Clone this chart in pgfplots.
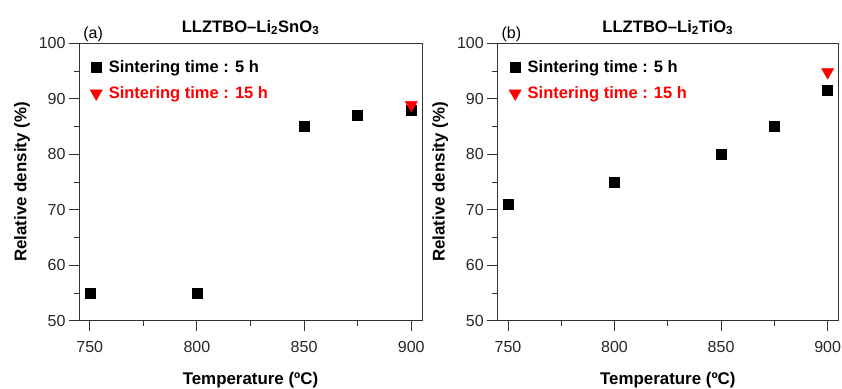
\documentclass[border=0pt]{standalone}
\usepackage{pgfplots}
\pgfplotsset{compat=1.18}
\usepackage{fontspec}
\setmainfont{Liberation Sans}

\definecolor{axisgray}{HTML}{333333}

% Sintering at 5 h and 15 h, LLZTBO-Li2SnO3
\pgfplotstableread{
T    rho
750  55
800  55
850  85
875  87
900  88
}\snFive
\pgfplotstableread{
T    rho
900  88.9
}\snFifteen
% LLZTBO-Li2TiO3
\pgfplotstableread{
T    rho
750  71
800  75
850  80
875  85
900  91.5
}\tiFive
\pgfplotstableread{
T    rho
900  94.8
}\tiFifteen

\pgfplotsset{
  densityaxis/.style={
    scale only axis,
    anchor=south west,
    height=277.4pt,
    xmin=745, xmax=905,
    ymin=50, ymax=100,
    xtick={750,800,850,900},
    minor xtick={775,825,875},
    ytick={50,60,70,80,90,100},
    minor ytick={55,65,75,85,95},
    tick align=outside,
    xtick pos=bottom, ytick pos=left,
    major tick length=10pt,
    minor tick length=5pt,
    axis line style={axisgray, line width=0.9pt},
    every tick/.style={axisgray, line width=0.9pt},
    /pgf/number format/assume math mode=true,
    /pgf/number format/1000 sep={},
    tick label style={font=\fontsize{16}{19}\selectfont, text=black!85},
    xticklabel style={yshift=-7pt},
    label style={font=\bfseries\fontsize{16.9}{20}\selectfont},
    xlabel={Temperature (ºC)},
    ylabel={Relative density (\%)},
    xlabel style={yshift=-13pt},
    ylabel style={yshift=2pt},
    title style={font=\bfseries\fontsize{16.6}{20}\selectfont,
                 at={(axis description cs:0.5,1)}, anchor=base, yshift=5pt},
    legend cell align=left,
    legend image code/.code={%
      \draw[mark repeat=2,mark phase=2] plot coordinates {(0pt,0pt)(6pt,0pt)(12pt,0pt)};},
    legend style={draw=none, fill=none, inner sep=0pt,
                  font=\bfseries\fontsize{16.5}{20}\selectfont,
                  row sep=10pt,
                  nodes={inner sep=1.5pt},
                  /tikz/every odd column/.append style={column sep=5pt}},
    clip=false,
  },
  fivehour/.style={only marks, mark=square*, mark size=5pt, black, mark options={fill=black}},
  fifteenhour/.style={only marks, mark=triangle*, mark size=7pt, red,
                      mark options={fill=red, rotate=180}},
}

\begin{document}
\begin{tikzpicture}
\useasboundingbox (0pt,0pt) rectangle (842pt,388pt);

\begin{axis}[densityaxis,
  at={(79pt,67.3pt)}, width=343pt,
  title={LLZTBO–Li$_{\mathbf{2}}$SnO$_{\mathbf{3}}$},
  legend style={at={(axis description cs:0.032,0.945)}, anchor=north west},
]
\addplot[fivehour] table[x=T, y=rho] {\snFive};
\addlegendentry{Sintering time : 5 h}
\addplot[fifteenhour] table[x=T, y=rho] {\snFifteen};
\addlegendentry{\textcolor{red}{Sintering time : 15 h}}
\node[anchor=base west, font=\fontsize{16}{19}\selectfont, inner sep=0pt]
  at (axis description cs:0.012,1) [yshift=5pt] {(a)};
\end{axis}

\begin{axis}[densityaxis,
  at={(497.3pt,67.3pt)}, width=341pt,
  title={LLZTBO–Li$_{\mathbf{2}}$TiO$_{\mathbf{3}}$},
  legend style={at={(axis description cs:0.034,0.945)}, anchor=north west},
]
\addplot[fivehour] table[x=T, y=rho] {\tiFive};
\addlegendentry{Sintering time : 5 h}
\addplot[fifteenhour] table[x=T, y=rho] {\tiFifteen};
\addlegendentry{\textcolor{red}{Sintering time : 15 h}}
\node[anchor=base west, font=\fontsize{16}{19}\selectfont, inner sep=0pt]
  at (axis description cs:0.012,1) [yshift=5pt] {(b)};
\end{axis}
\end{tikzpicture}
\end{document}
